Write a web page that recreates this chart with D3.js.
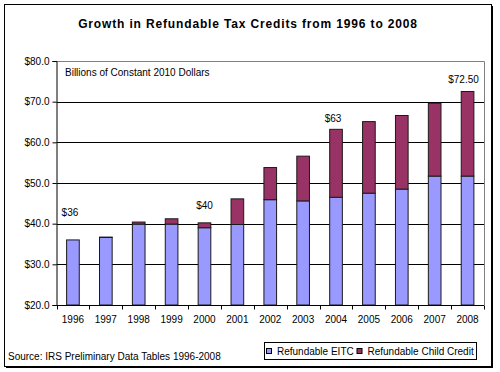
<!DOCTYPE html>
<html><head><meta charset="utf-8">
<script src="https://cdn.jsdelivr.net/npm/d3@7"></script>
<style>
html,body{margin:0;padding:0;background:#fff;}
text{font-family:"Liberation Sans",Arial,sans-serif;}
</style></head>
<body>
<svg id="c" width="500" height="372"></svg>
<script>
const years = ["1996","1997","1998","1999","2000","2001","2002","2003","2004","2005","2006","2007","2008"];
const eitc  = [36.0, 36.6, 39.9, 39.9, 39.0, 39.8, 45.9, 45.6, 46.5, 47.5, 48.5, 51.7, 51.7];
const child = [0.0, 0.1, 0.5, 1.3, 1.2, 6.3, 7.9, 11.0, 16.7, 17.6, 18.1, 17.9, 20.8];
const yTicks = [20, 30, 40, 50, 60, 70, 80];
const seriesNames = ["Refundable EITC", "Refundable Child Credit"];
const seriesColors = ["#9999FF", "#993366"];
const annoYears = ["1996", "2000", "2004", "2008"];
const annoText = ["$36", "$40", "$63", "$72.50"];
const annoAt = [42.9, 44.6, 65.9, 75.5];

const svg = d3.select("#c");
const L = 56.5, R = 484, T = 61, B = 305;

// outer frame with shadow
svg.append("rect").attr("x",6).attr("y",6).attr("width",487).attr("height",362).attr("fill","#000");
svg.append("rect").attr("x",4.5).attr("y",4.5).attr("width",487).attr("height",362)
  .attr("fill","#fff").attr("stroke","#000").attr("stroke-width",1);

svg.append("text").attr("x",248).attr("y",28).attr("text-anchor","middle")
  .attr("font-size",12).attr("font-weight","bold").attr("letter-spacing",0.85)
  .text("Growth in Refundable Tax Credits from 1996 to 2008");

const x = d3.scaleBand().domain(years).range([L, R]).paddingInner(0.615).paddingOuter(0.3075);
const xb = d3.scaleBand().domain(years).range([L, R]);
const y = d3.scaleLinear().domain([20, 80]).range([B, T]);

// plot area border (top/right gray)
svg.append("path").attr("d",`M${L},${T+0.5}H${R+0.5}V${B}`).attr("fill","none").attr("stroke","#808080");

// gridlines
svg.append("g").selectAll("line").data(yTicks.filter(v => v > 20 && v < 80)).join("line")
  .attr("x1",L).attr("x2",R).attr("y1",d=>Math.round(y(d))+0.5).attr("y2",d=>Math.round(y(d))+0.5)
  .attr("stroke","#000");

// y axis
const ya = d3.axisLeft(y).tickValues(yTicks).tickSize(4).tickPadding(3).tickFormat(d => "$" + d3.format(".1f")(d));
const gy = svg.append("g").attr("transform",`translate(${L},0)`).call(ya);
gy.selectAll("text").attr("font-size",10).attr("fill","#000");
gy.select(".domain").attr("stroke","#000");

// bars
const stacked = years.map((yr,i)=>({yr, e:eitc[i], c:child[i]}));
const g = svg.append("g");
stacked.forEach(d=>{
  g.append("rect").attr("x",x(d.yr)).attr("width",x.bandwidth())
   .attr("y",y(d.e)).attr("height",y(20)-y(d.e))
   .attr("fill",seriesColors[0]).attr("stroke","#1a1a1a").attr("stroke-width",1);
  if (d.c > 0) {
    g.append("rect").attr("x",x(d.yr)).attr("width",x.bandwidth())
     .attr("y",y(d.e + d.c)).attr("height",y(d.e)-y(d.e+d.c))
     .attr("fill",seriesColors[1]).attr("stroke","#1a1a1a").attr("stroke-width",1);
  }
});

// x axis
const gx = svg.append("g").attr("transform",`translate(0,${B+0.5})`);
gx.append("line").attr("x1",L).attr("x2",R).attr("stroke","#000");
const bounds = years.map(yr => xb(yr)).concat([R]);
gx.selectAll("line.tk").data(bounds).join("line").attr("class","tk")
  .attr("x1",d=>Math.round(d)+0.5).attr("x2",d=>Math.round(d)+0.5).attr("y1",0).attr("y2",4).attr("stroke","#000");
gx.selectAll("text").data(years).join("text")
  .attr("x",d=>xb(d)+xb.bandwidth()/2).attr("y",17).attr("text-anchor","middle")
  .attr("font-size",10).text(d=>d);

// annotations
svg.append("text").attr("x",65).attr("y",76).attr("font-size",10).text("Billions of Constant 2010 Dollars");
svg.append("g").selectAll("text").data(annoYears).join("text")
  .attr("x",(d)=>xb(d)+xb.bandwidth()/2 - (d==="2008"?4:(d==="2004"?3:(d==="1996"?3:0))))
  .attr("y",(d,i)=>y(annoAt[i])+4).attr("text-anchor","middle").attr("font-size",10)
  .text((d,i)=>annoText[i]);

// source
svg.append("text").attr("x",8).attr("y",360).attr("font-size",10).text("Source: IRS Preliminary Data Tables 1996-2008");

// legend
const lg = svg.append("g");
lg.append("rect").attr("x",264.5).attr("y",342.5).attr("width",212).attr("height",17).attr("fill","#fff").attr("stroke","#000");
const lx = [266, 356.5];
seriesNames.forEach((n,i)=>{
  lg.append("rect").attr("x",lx[i]+0.5).attr("y",348.5).attr("width",5).attr("height",5)
    .attr("fill",seriesColors[i]).attr("stroke","#000");
  lg.append("text").attr("x",lx[i]+11).attr("y",354.5).attr("font-size",10).text(n);
});
</script>
</body></html>
